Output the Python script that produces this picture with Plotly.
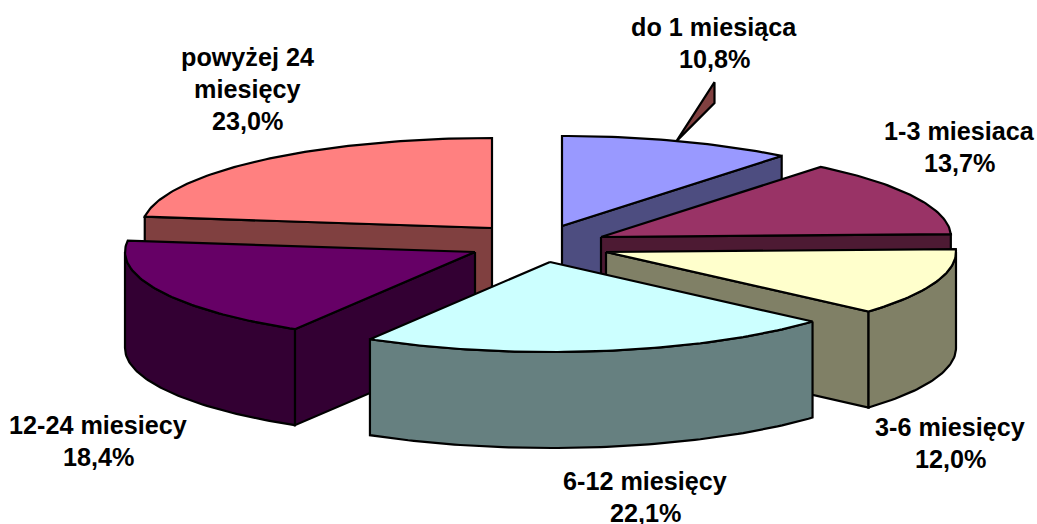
import math
import plotly.graph_objects as go

# --- data ---
categories = ["do 1 miesiąca", "1-3 miesiaca", "3-6 miesięcy", "6-12 miesięcy", "12-24 miesiecy", "powyżej 24 miesięcy"]
values = [10.8, 13.7, 12.0, 22.1, 18.4, 23.0]
label_lines = [["do 1 miesiąca"], ["1-3 miesiaca"], ["3-6 miesięcy"], ["6-12 miesięcy"], ["12-24 miesiecy"], ["powyżej 24", "miesięcy"]]

# --- style ---
top_colors = ["#9999FF", "#993366", "#FFFFCC", "#CCFFFF", "#660066", "#FF8080"]
wall_colors = ["#4D4D80", "#4D1A33", "#808066", "#668080", "#330033", "#804040"]
apexes = [(562, 226), (601, 237), (606, 252), (550, 262), (475, 252), (492, 228)]
label_pos = [(714, 27), (959, 131), (950, 427), (645, 481), (98, 425), (247, 57)]
RX, RY, DEPTH = 350, 90, 96
LINE_GAP = 32
draw_order = [0, 5, 1, 2, 4, 3]
OUT = dict(color="black", width=2.2)

def pt(apex, deg):
    r = math.radians(deg)
    return apex[0] + RX * math.sin(r), apex[1] - RY * math.cos(r)

def arc(apex, a0, a1):
    n = max(2, int(abs(a1 - a0)) + 1)
    return [pt(apex, a0 + (a1 - a0) * i / (n - 1)) for i in range(n)]

def add_poly(fig, pts, color):
    xs = [p[0] for p in pts] + [pts[0][0]]
    ys = [p[1] for p in pts] + [pts[0][1]]
    fig.add_trace(go.Scatter(x=xs, y=ys, mode="lines", fill="toself", fillcolor=color,
                             line=OUT, hoverinfo="skip", showlegend=False))

total = sum(values)
bounds = [0.0]
for v in values:
    bounds.append(bounds[-1] + v / total * 360)

fig = go.Figure()

# leader line of the first label (a thin sliver rising from the slice's mid-arc)
base = pt(apexes[0], (bounds[0] + bounds[1]) / 2)
add_poly(fig, [(base[0] - 2, base[1]), (base[0] + 36, base[1] - 59), (base[0] + 36, base[1] - 38)], wall_colors[5])

for i in draw_order:
    a0, a1 = bounds[i], bounds[i + 1]
    apex = apexes[i]
    down = lambda p: (p[0], p[1] + DEPTH)
    # radial walls that face the viewer
    if a1 < 180:
        e = pt(apex, a1)
        add_poly(fig, [apex, e, down(e), down(apex)], wall_colors[i])
    if a0 > 180:
        e = pt(apex, a0)
        add_poly(fig, [apex, e, down(e), down(apex)], wall_colors[i])
    # rim wall, front-facing part only
    lo, hi = max(a0, 90), min(a1, 270)
    if lo < hi:
        rim = arc(apex, lo, hi)
        add_poly(fig, rim + [down(p) for p in reversed(rim)], wall_colors[i])
    # top face
    add_poly(fig, [apex] + arc(apex, a0, a1), top_colors[i])

annotations = []
for i, lines in enumerate(label_lines):
    x, y = label_pos[i]
    pct = f"{values[i]:.1f}%".replace(".", ",")
    for j, t in enumerate(lines + [pct]):
        annotations.append(dict(x=x, y=y + j * LINE_GAP, text=t, showarrow=False,
                                xref="x", yref="y", xanchor="center", yanchor="middle",
                                font=dict(family="Liberation Sans", size=25.2, color="black", weight="bold")))

fig.update_layout(
    width=1037, height=524, margin=dict(l=0, r=0, t=0, b=0),
    paper_bgcolor="white", plot_bgcolor="white", showlegend=False,
    xaxis=dict(range=[0, 1037], visible=False, fixedrange=True),
    yaxis=dict(range=[524, 0], visible=False, fixedrange=True),
    annotations=annotations,
)
fig.write_html("out.html", config={"displayModeBar": False},
               post_script="document.body.style.margin='0';document.body.style.overflow='hidden';")
